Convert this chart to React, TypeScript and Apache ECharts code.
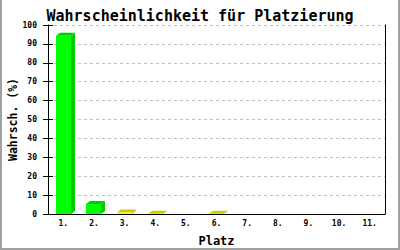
import React, { useEffect, useRef } from "react";
import * as echarts from "echarts";

const titleText = "Wahrscheinlichkeit für Platzierung";
const yAxisTitle = "Wahrsch. (%)";
const xAxisTitle = "Platz";
const categories = ["1.", "2.", "3.", "4.", "5.", "6.", "7.", "8.", "9.", "10.", "11."];
const probabilities = [94.3, 5.3, 0.8, 0.1, 0, 0.1, 0, 0, 0, 0, 0];

const MONO = "'DejaVu Sans Mono', monospace";

export default function App() {
  const ref = useRef<HTMLDivElement>(null);

  useEffect(() => {
    if (!ref.current) return;
    const chart = echarts.init(ref.current, undefined, { renderer: "svg" });

    const renderItem = (params: any, api: any) => {
      const cat = api.value(0);
      const val = api.value(1);
      if (!(val > 0)) return null;
      const p0 = api.coord([cat, 0]);
      const p1 = api.coord([cat, val]);
      const w = 15;
      const dx = 4;
      const dy = 3;
      const x0 = Math.round(p0[0] - w / 2);
      const yb = p0[1];
      const yt = p1[1];
      const green = val >= 5;
      const front = green ? "#00ff00" : "#ffff00";
      const dark = green ? "#00cc00" : "#cccc00";
      return {
        type: "group",
        children: [
          {
            type: "polygon",
            shape: { points: [[x0 + w, yt], [x0 + w + dx, yt - dy], [x0 + w + dx, yb - dy], [x0 + w, yb]] },
            style: { fill: dark },
          },
          {
            type: "polygon",
            shape: { points: [[x0, yt], [x0 + dx, yt - dy], [x0 + w + dx, yt - dy], [x0 + w, yt]] },
            style: { fill: dark },
          },
          {
            type: "rect",
            shape: { x: x0, y: yt, width: w, height: yb - yt },
            style: { fill: front },
          },
        ],
      };
    };

    chart.setOption({
      animation: false,
      backgroundColor: "#ffffff",
      textStyle: { fontFamily: MONO },
      grid: { left: 48, right: 15, top: 25, bottom: 36, containLabel: false, outerBoundsMode: "none" },
      title: {
        text: titleText,
        left: "center",
        top: 3,
        textStyle: { fontFamily: MONO, fontSize: 15, fontWeight: "bold", color: "#000" },
      },
      xAxis: {
        type: "category",
        data: categories,
        name: xAxisTitle,
        nameLocation: "middle",
        nameGap: 21,
        nameMoveOverlap: false,
        nameTextStyle: { fontFamily: MONO, fontSize: 12, fontWeight: "bold", color: "#000" },
        axisLine: { lineStyle: { color: "#000", width: 1 } },
        axisTick: { show: false },
        axisLabel: { fontFamily: MONO, fontSize: 8, fontWeight: "bold", color: "#000", margin: 5 },
        splitLine: { show: false },
      },
      yAxis: [
        {
          type: "value",
          min: 0,
          max: 100,
          interval: 10,
          name: yAxisTitle,
          nameLocation: "middle",
          nameGap: 29,
          nameMoveOverlap: false,
          nameTextStyle: { fontFamily: MONO, fontSize: 11.5, fontWeight: "bold", color: "#000" },
          axisLine: { show: true, lineStyle: { color: "#000", width: 1 } },
          axisTick: { show: true, length: 5, lineStyle: { color: "#000" } },
          axisLabel: { fontFamily: MONO, fontSize: 8, fontWeight: "bold", color: "#000", margin: 11 },
          splitLine: { show: true, lineStyle: { color: "#c0c0c0", type: [3, 3], width: 1 } },
        },
        {
          type: "value",
          min: 0,
          max: 100,
          interval: 10,
          position: "left",
          axisLine: { show: false },
          axisTick: { show: true, inside: true, length: 5, lineStyle: { color: "#000" } },
          axisLabel: { show: false },
          splitLine: { show: false },
        },
        {
          type: "value",
          min: 0,
          max: 100,
          interval: 10,
          position: "right",
          axisLine: { show: true, lineStyle: { color: "#000", width: 1 } },
          axisTick: { show: false },
          axisLabel: { show: false },
          splitLine: { show: false },
        },
      ],
      series: [
        {
          type: "custom",
          renderItem,
          data: probabilities.map((v, i) => [i, v]),
          encode: { x: 0, y: 1 },
          clip: false,
        },
      ],
      graphic: [
        { type: "rect", left: 0, top: 0, shape: { width: 2, height: 250 }, style: { fill: "#a0a0a0" } },
        { type: "rect", right: 0, top: 0, shape: { width: 2, height: 250 }, style: { fill: "#a0a0a0" } },
        { type: "rect", left: 0, bottom: 0, shape: { width: 400, height: 2 }, style: { fill: "#a0a0a0" } },
      ],
    });

    return () => chart.dispose();
  }, []);

  return (
    <div
      ref={ref}
      style={{ position: "absolute", left: 0, top: 0, width: 400, height: 250 }}
    />
  );
}
